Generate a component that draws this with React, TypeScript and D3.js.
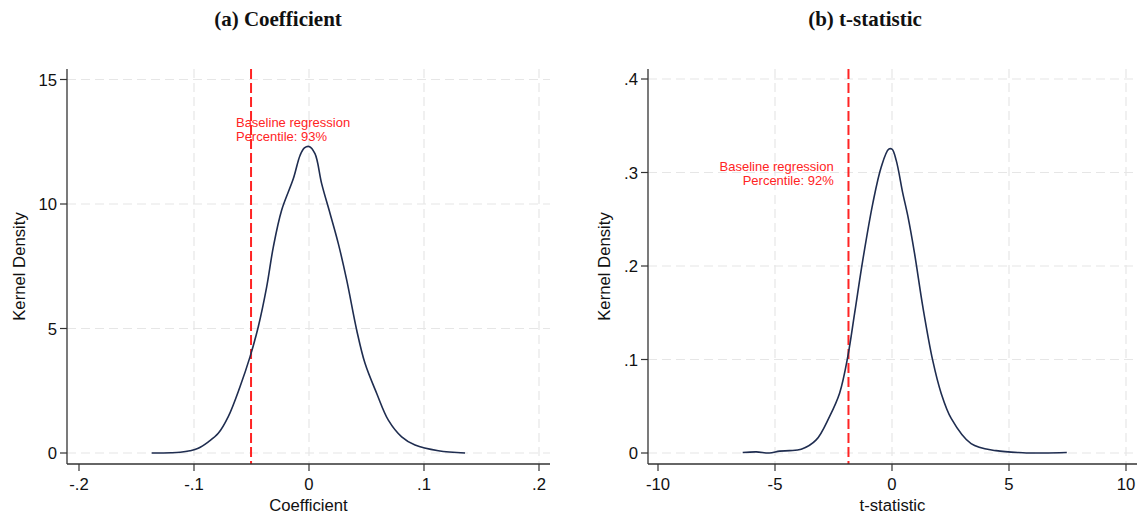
import React from "react";
import * as d3 from "d3";

// Kernel density of the placebo coefficients
const coefX = [-0.1368, -0.12, -0.112, -0.1035, -0.0963, -0.0875, -0.0789, -0.0702, -0.06, -0.0513, -0.0441, -0.0368, -0.031, -0.0238, -0.0136, -0.0078, -0.004, 0.0, 0.0052, 0.011, 0.0183, 0.0255, 0.0328, 0.0415, 0.0487, 0.0589, 0.069, 0.0806, 0.0922, 0.1125, 0.1357];
const coefY = [0, 0.01, 0.03, 0.09, 0.19, 0.45, 0.79, 1.46, 2.66, 3.86, 5.07, 6.67, 8.28, 9.75, 11.02, 11.95, 12.25, 12.31, 12.02, 10.82, 9.62, 8.41, 6.94, 4.93, 3.6, 2.39, 1.32, 0.65, 0.32, 0.09, 0];

// Kernel density of the placebo t-statistics
const tstatX = [-6.38, -5.8, -5.24, -4.8, -4.38, -3.88, -3.24, -2.67, -2.24, -1.89, -1.6, -1.25, -0.82, -0.46, -0.14, 0.0, 0.18, 0.46, 0.68, 0.96, 1.32, 1.74, 2.1, 2.53, 3.38, 4.45, 5.59, 6.5, 7.47];
const tstatY = [0.0005, 0.0012, 0.0, 0.002, 0.0025, 0.004, 0.014, 0.039, 0.064, 0.103, 0.149, 0.206, 0.267, 0.306, 0.325, 0.325, 0.313, 0.278, 0.253, 0.214, 0.156, 0.099, 0.064, 0.037, 0.010, 0.0025, 0.0003, 0.0, 0.0005];

// Axis ticks
const coefTicksX = [-0.2, -0.1, 0, 0.1, 0.2];
const coefTicksY = [0, 5, 10, 15];
const tstatTicksX = [-10, -5, 0, 5, 10];
const tstatTicksY = [0, 0.1, 0.2, 0.3, 0.4];

// Baseline estimates and their percentiles
const baselineCoef = -0.0504;
const baselineT = -1.86;
const coefNote = ["Baseline regression", "Percentile: 93%"];
const tstatNote = ["Baseline regression", "Percentile: 92%"];

const fmt = (v: number) => String(+v.toFixed(4)).replace(/^(-?)0\./, "$1.");

const SANS = "'Liberation Sans', Arial, sans-serif";
const RED = "#ff2424";
const NAVY = "#1f2d50";
const AXIS_FONT = 16.7;
const NOTE_FONT = 13;
const NOTE_LEAD = 13.6;

type PanelProps = {
  title: string;
  xLabel: string;
  xs: number[];
  ys: number[];
  ticksX: number[];
  ticksY: number[];
  xDomain: [number, number];
  xRange: [number, number];
  yDomain: [number, number];
  yRange: [number, number];
  frame: { left: number; right: number; top: number; bottom: number };
  yLabelX: number;
  titleX: number;
  baseline: number;
  note: string[];
  noteAt: [number, number];
  noteAnchor: "start" | "end";
};

function Panel(p: PanelProps) {
  const x = d3.scaleLinear().domain(p.xDomain).range(p.xRange);
  const y = d3.scaleLinear().domain(p.yDomain).range(p.yRange);
  const pts = p.xs.map((v, i) => [v, p.ys[i]] as [number, number]);
  const line = d3
    .line<[number, number]>()
    .x((d) => x(d[0]))
    .y((d) => y(d[1]))
    .curve(d3.curveCatmullRom.alpha(0.5));
  const { left, right, top, bottom } = p.frame;
  const midX = (left + right) / 2;
  const midY = (top + bottom) / 2;
  return (
    <g>
      <text
        x={p.titleX}
        y={26}
        textAnchor="middle"
        fontFamily="'Liberation Serif', 'Times New Roman', serif"
        fontWeight="bold"
        fontSize={21}
        fill="#111"
      >
        {p.title}
      </text>
      {/* grid */}
      {p.ticksY.map((t) => (
        <line key={"gy" + t} x1={left} x2={right} y1={y(t)} y2={y(t)} stroke="#e6e6e6" strokeWidth={1.2} strokeDasharray="9,5" />
      ))}
      {p.ticksX.slice(1).map((t) => (
        <line key={"gx" + t} x1={x(t)} x2={x(t)} y1={top} y2={bottom} stroke="#e6e6e6" strokeWidth={1.2} strokeDasharray="9,5" />
      ))}
      {/* baseline marker */}
      <line x1={x(p.baseline)} x2={x(p.baseline)} y1={top} y2={bottom} stroke={RED} strokeWidth={2} strokeDasharray="10,4" />
      {/* density */}
      <path d={line(pts) || ""} fill="none" stroke={NAVY} strokeWidth={1.6} />
      {/* axes */}
      <line x1={left} x2={left} y1={top} y2={bottom} stroke="#333" strokeWidth={1.3} />
      <line x1={left} x2={right} y1={bottom} y2={bottom} stroke="#333" strokeWidth={1.3} />
      {p.ticksY.map((t) => (
        <g key={"ty" + t}>
          <line x1={left - 7} x2={left} y1={y(t)} y2={y(t)} stroke="#333" strokeWidth={1.2} />
          <text x={left - 10} y={y(t)} dy="0.36em" textAnchor="end" fontFamily={SANS} fontSize={AXIS_FONT} fill="#111">
            {fmt(t)}
          </text>
        </g>
      ))}
      {p.ticksX.map((t) => (
        <g key={"tx" + t}>
          <line x1={x(t)} x2={x(t)} y1={bottom} y2={bottom + 7} stroke="#333" strokeWidth={1.2} />
          <text x={x(t)} y={bottom + 26} textAnchor="middle" fontFamily={SANS} fontSize={AXIS_FONT} fill="#111">
            {fmt(t)}
          </text>
        </g>
      ))}
      <text x={midX} y={511} textAnchor="middle" fontFamily={SANS} fontSize={AXIS_FONT} fill="#111">
        {p.xLabel}
      </text>
      <text
        transform={`translate(${p.yLabelX},${midY}) rotate(-90)`}
        textAnchor="middle"
        fontFamily={SANS}
        fontSize={AXIS_FONT}
        fill="#111"
      >
        Kernel Density
      </text>
      {p.note.map((s, i) => (
        <text
          key={s}
          x={x(p.noteAt[0])}
          y={y(p.noteAt[1]) - 0.6 + i * NOTE_LEAD}
          textAnchor={p.noteAnchor}
          fontFamily={SANS}
          fontSize={NOTE_FONT}
          fill={RED}
        >
          {s}
        </text>
      ))}
    </g>
  );
}

export default function App() {
  return (
    <svg
      width={1138}
      height={521}
      style={{ position: "absolute", left: 0, top: 0, background: "#fff" }}
    >
      <rect width={1138} height={521} fill="#fff" />
      <Panel
        title="(a) Coefficient"
        xLabel="Coefficient"
        xs={coefX}
        ys={coefY}
        ticksX={coefTicksX}
        ticksY={coefTicksY}
        xDomain={[-0.2, 0.2]}
        xRange={[79, 539]}
        yDomain={[0, 15]}
        yRange={[453, 79.5]}
        frame={{ left: 67, right: 550, top: 69, bottom: 464 }}
        yLabelX={25}
        titleX={278}
        baseline={baselineCoef}
        note={coefNote}
        noteAt={[-0.0635, 13.05]}
        noteAnchor="start"
      />
      <Panel
        title="(b) t-statistic"
        xLabel="t-statistic"
        xs={tstatX}
        ys={tstatY}
        ticksX={tstatTicksX}
        ticksY={tstatTicksY}
        xDomain={[-10, 10]}
        xRange={[658, 1126]}
        yDomain={[0, 0.4]}
        yRange={[453, 79]}
        frame={{ left: 648, right: 1137, top: 69, bottom: 464 }}
        yLabelX={610}
        titleX={865}
        baseline={baselineT}
        note={tstatNote}
        noteAt={[-2.49, 0.301]}
        noteAnchor="end"
      />
    </svg>
  );
}
